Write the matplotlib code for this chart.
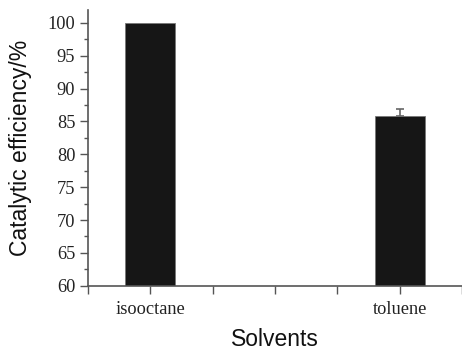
import numpy as np
import matplotlib.pyplot as plt
from matplotlib.ticker import MultipleLocator

# ----------------------------
# Data
# ----------------------------
solvents = ["isooctane", "toluene"]
positions = [1, 5]
efficiency = [100.0, 85.8]
err_up = [0.0, 1.1]

y_ticks = [60, 65, 70, 75, 80, 85, 90, 95, 100]

# ----------------------------
# Plot
# ----------------------------
fig = plt.figure(figsize=(4.62, 3.51), dpi=100)
ax = fig.add_axes([0.19, 0.186, 0.81, 0.786])

axis_col = "#555555"
ax.bar(positions, efficiency, width=0.8, color="#161616",
       edgecolor="#777777", linewidth=0.6, zorder=2)
# only the toluene bar carries an error bar
ax.errorbar(positions[1:], efficiency[1:], yerr=[[0], err_up[1:]], fmt="none",
            ecolor="#666666", elinewidth=1.2, capsize=3, capthick=1.2, zorder=1)

ax.set_xlim(0, 6)
ax.set_ylim(60, 102)
ax.set_xticks(range(0, 7))
ax.set_xticklabels(["", solvents[0], "", "", "", solvents[1], ""])
ax.set_yticks(y_ticks)
ax.yaxis.set_minor_locator(MultipleLocator(2.5))

for s in ["top", "right"]:
    ax.spines[s].set_visible(False)
for s in ["left", "bottom"]:
    ax.spines[s].set_color(axis_col)
    ax.spines[s].set_linewidth(1.2)

ax.tick_params(axis="both", which="major", direction="out", length=6,
               width=1.0, color=axis_col, labelsize=13.2, labelcolor="#222222")
ax.tick_params(axis="y", which="minor", direction="out", length=3,
               width=1.0, color=axis_col)
ax.tick_params(axis="x", pad=5)
ax.tick_params(axis="y", pad=3)
for lab in ax.get_xticklabels() + ax.get_yticklabels():
    lab.set_fontfamily("Liberation Serif")

ax.set_ylabel("Catalytic efficiency/%", fontsize=16.5, family="Liberation Sans",
              color="#111111", labelpad=11)
ax.set_xlabel("Solvents", fontsize=16.5, family="Liberation Sans",
              color="#111111", labelpad=7)

fig.savefig("out.png", dpi=100)
